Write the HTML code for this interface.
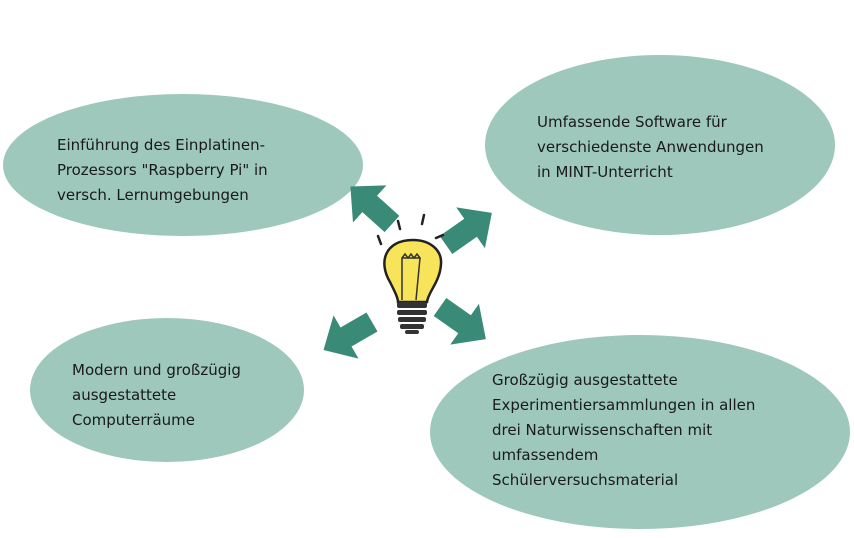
<!DOCTYPE html>
<html><head><meta charset="utf-8"><style>
body{margin:0;width:854px;height:538px;background:#fff;overflow:hidden;position:relative;font-family:"DejaVu Sans","Liberation Sans",sans-serif;}
.t{position:absolute;font-size:15px;line-height:25px;color:#1a1a1a;white-space:nowrap;}
svg{position:absolute;left:0;top:0;}
</style></head><body>
<svg width="854" height="538">
<g fill="#9dc8bb">
<ellipse cx="183" cy="165" rx="180" ry="71"/>
<ellipse cx="660" cy="145" rx="175" ry="90"/>
<ellipse cx="167" cy="390" rx="137" ry="72"/>
<ellipse cx="640" cy="432" rx="210" ry="97"/>
</g>
<defs><polygon id="ar" points="0,-11 30,-11 30,-25 56,0 30,25 30,11 0,11"/></defs>
<g fill="#3a8a78">
<use href="#ar" transform="translate(392,224) rotate(-138)"/>
<use href="#ar" transform="translate(446,245) rotate(-35)"/>
<use href="#ar" transform="translate(372,322) rotate(150)"/>
<use href="#ar" transform="translate(440,307) rotate(35)"/>
</g>
<g stroke="#222" stroke-width="2.5" fill="none" stroke-linecap="round">
<line x1="378" y1="236" x2="381" y2="244"/>
<line x1="398" y1="221" x2="400" y2="229"/>
<line x1="424" y1="215" x2="422" y2="224"/>
<line x1="443" y1="235" x2="436" y2="238"/>
</g>
<path d="M413,240 C385,240 378,262 390,282 C395,292 398,298 398,302 L427,302 C428,292 440,282 441,264 C442,250 430,240 413,240 Z" fill="#f8e45a" stroke="#222" stroke-width="2.5"/>
<path d="M402,300 L402,258 L420,258 L416,300 M402,258 l3,-4 l3,4 l3,-4 l3,4 l3,-4 l3,4" stroke="#333" stroke-width="1.5" fill="none"/>
<g fill="#333">
<rect x="397" y="302" width="30" height="6" rx="2"/>
<rect x="397" y="310" width="30" height="5" rx="2"/>
<rect x="398" y="317" width="28" height="5" rx="2"/>
<rect x="400" y="324" width="24" height="5" rx="2"/>
<rect x="405" y="330" width="14" height="4" rx="2"/>
</g>
</svg>
<div class="t" style="left:57px;top:133px">Einführung des Einplatinen-<br>Prozessors "Raspberry Pi" in<br>versch. Lernumgebungen</div>
<div class="t" style="left:537px;top:110px">Umfassende Software für<br>verschiedenste Anwendungen<br>in MINT-Unterricht</div>
<div class="t" style="left:72px;top:358px">Modern und großzügig<br>ausgestattete<br>Computerräume</div>
<div class="t" style="left:492px;top:368px">Großzügig ausgestattete<br>Experimentiersammlungen in allen<br>drei Naturwissenschaften mit<br>umfassendem<br>Schülerversuchsmaterial</div>
</body></html>
